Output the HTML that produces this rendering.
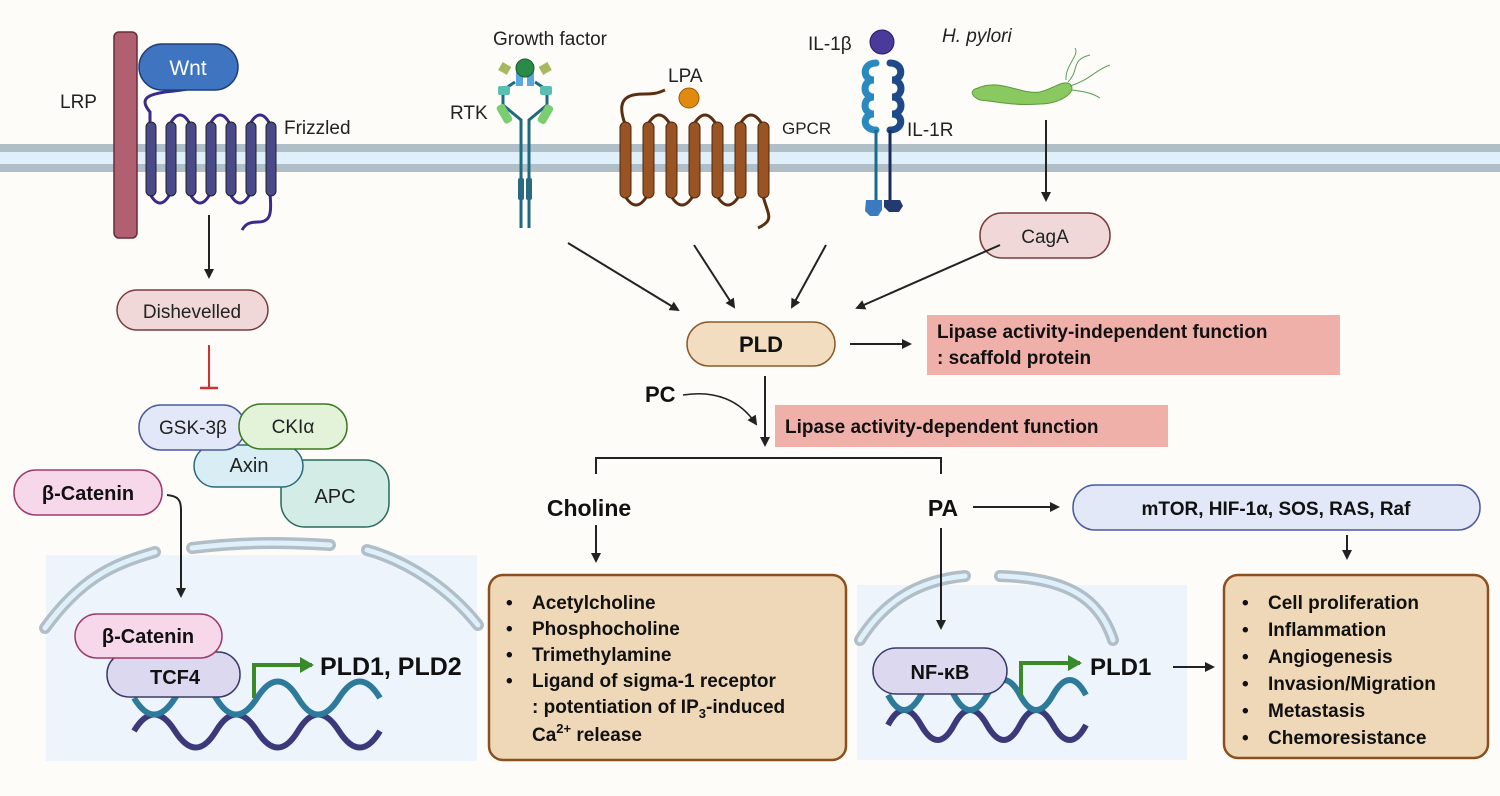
<!DOCTYPE html>
<html><head><meta charset="utf-8"><style>
html,body{margin:0;padding:0;background:#fdfcf8;}
svg{display:block;font-family:"Liberation Sans",sans-serif;}
.b{font-weight:bold;}
</style></head><body>
<svg width="1500" height="796" viewBox="0 0 1500 796" xmlns="http://www.w3.org/2000/svg">
<defs>
<marker id="ah" markerWidth="10" markerHeight="10" refX="8" refY="5" orient="auto" markerUnits="userSpaceOnUse"><path d="M0,0 L10,5 L0,10 z" fill="#222"/></marker>
<marker id="gh" markerWidth="14" markerHeight="16" refX="12" refY="8" orient="auto" markerUnits="userSpaceOnUse"><path d="M0,0 L14,8 L0,16 z" fill="#3a8a2a"/></marker>
</defs>
<rect width="1500" height="796" fill="#fdfcf8"/>
<!-- nuclei backgrounds -->
<rect x="46" y="555" width="431" height="206" fill="#edf4fc"/>
<rect x="857" y="585" width="330" height="175" fill="#edf4fc"/>
<g fill="none" stroke-linecap="round">
<path d="M45,628 C80,580 110,565 155,552" stroke="#b0bec8" stroke-width="12"/>
<path d="M45,628 C80,580 110,565 155,552" stroke="#e0f0fb" stroke-width="5"/>
<path d="M192,548 C240,542 280,542 330,545" stroke="#b0bec8" stroke-width="12"/>
<path d="M192,548 C240,542 280,542 330,545" stroke="#e0f0fb" stroke-width="5"/>
<path d="M367,550 C410,562 450,590 478,625" stroke="#b0bec8" stroke-width="12"/>
<path d="M367,550 C410,562 450,590 478,625" stroke="#e0f0fb" stroke-width="5"/>
<path d="M860,640 C885,600 920,580 965,576" stroke="#b0bec8" stroke-width="12"/>
<path d="M860,640 C885,600 920,580 965,576" stroke="#e0f0fb" stroke-width="5"/>
<path d="M1000,576 C1070,578 1100,600 1113,640" stroke="#b0bec8" stroke-width="12"/>
<path d="M1000,576 C1070,578 1100,600 1113,640" stroke="#e0f0fb" stroke-width="5"/>
</g>
<!-- membrane -->
<rect x="0" y="144" width="1500" height="28" fill="#e0f0fb"/>
<rect x="0" y="144" width="1500" height="8" fill="#b0bec8"/>
<rect x="0" y="164" width="1500" height="8" fill="#b0bec8"/>

<!-- LRP / Wnt / Frizzled -->
<text x="60" y="108" font-size="19" fill="#222">LRP</text>
<path d="M150,124 L150,112 C140,100 145,95 165,92 C180,90 190,90 193,86" fill="none" stroke="#3a2a8a" stroke-width="3"/>
<g fill="none" stroke="#3a2a8a" stroke-width="3">
<path d="M170,124 q10,-18 20,0 M210,124 q10,-18 20,0 M250,124 q10,-18 20,0"/>
<path d="M150,194 q10,18 20,0 M190,194 q10,18 20,0 M230,194 q10,18 20,0"/>
<path d="M270,194 C272,215 270,222 258,222 C248,222 245,225 242,230"/>
</g>
<g fill="#4a4a8a" stroke="#222" stroke-width="1">
<rect x="146" y="122" width="10" height="74" rx="5"/><rect x="166" y="122" width="10" height="74" rx="5"/>
<rect x="186" y="122" width="10" height="74" rx="5"/><rect x="206" y="122" width="10" height="74" rx="5"/>
<rect x="226" y="122" width="10" height="74" rx="5"/><rect x="246" y="122" width="10" height="74" rx="5"/>
<rect x="266" y="122" width="10" height="74" rx="5"/>
</g>
<rect x="114" y="32" width="23" height="206" rx="5" fill="#b06070" stroke="#6a2a3a" stroke-width="1.5"/>
<rect x="139" y="44" width="99" height="46" rx="23" fill="#3f74c0" stroke="#1e3e7a" stroke-width="1.5"/>
<text x="188" y="75" font-size="21" fill="#fff" text-anchor="middle">Wnt</text>
<text x="284" y="134" font-size="19" fill="#222">Frizzled</text>
<line x1="209" y1="215" x2="209" y2="277" stroke="#222" stroke-width="2" marker-end="url(#ah)"/>
<rect x="117" y="290" width="151" height="40" rx="20" fill="#f0d8d8" stroke="#7a3a3a" stroke-width="1.5"/>
<text x="192" y="318" font-size="19" text-anchor="middle" fill="#222">Dishevelled</text>
<line x1="209" y1="345" x2="209" y2="387" stroke="#d03030" stroke-width="2"/>
<line x1="200" y1="388" x2="218" y2="388" stroke="#d03030" stroke-width="2.5"/>

<!-- destruction complex -->
<rect x="281" y="460" width="108" height="67" rx="24" fill="#d3ece6" stroke="#2a6a5a" stroke-width="1.5"/>
<text x="335" y="503" font-size="20" text-anchor="middle" fill="#222">APC</text>
<rect x="194" y="445" width="109" height="42" rx="21" fill="#d8eef4" stroke="#2a6a7a" stroke-width="1.5"/>
<text x="249" y="472" font-size="20" text-anchor="middle" fill="#222">Axin</text>
<rect x="139" y="405" width="106" height="45" rx="22" fill="#e3e8f8" stroke="#4a5aa0" stroke-width="1.5"/>
<text x="193" y="434" font-size="19" text-anchor="middle" fill="#222">GSK-3β</text>
<rect x="239" y="404" width="108" height="45" rx="22" fill="#e2f3da" stroke="#3a7a20" stroke-width="1.5"/>
<text x="293" y="433" font-size="19" text-anchor="middle" fill="#222">CKIα</text>

<rect x="14" y="470" width="148" height="45" rx="22" fill="#f7d8ea" stroke="#a03a6a" stroke-width="1.5"/>
<text x="88" y="500" font-size="20" class="b" text-anchor="middle" fill="#111">β-Catenin</text>
<path d="M167,495 C178,496 181,500 181,510 L181,596" fill="none" stroke="#222" stroke-width="2" marker-end="url(#ah)"/>

<!-- left nucleus contents -->
<g fill="none" stroke-width="6">
<path d="M134,731 q20,-33 41,0 t41,0 t41,0 t41,0 t41,0 t41,0" stroke="#3a3a7a"/>
<path d="M134,698 q20,33 41,0 t41,0 t41,0 t41,0 t41,0 t41,0" stroke="#2e7a9a"/>
</g>
<rect x="107" y="652" width="133" height="45" rx="22" fill="#dcd8ef" stroke="#3a3a6a" stroke-width="1.5"/>
<text x="175" y="684" font-size="20" class="b" text-anchor="middle" fill="#111">TCF4</text>
<rect x="75" y="614" width="147" height="44" rx="22" fill="#f7d8ea" stroke="#a03a6a" stroke-width="1.5"/>
<text x="148" y="643" font-size="20" class="b" text-anchor="middle" fill="#111">β-Catenin</text>
<path d="M254,698 L254,665 L312,665" fill="none" stroke="#3a8a2a" stroke-width="4" marker-end="url(#gh)"/>
<text x="320" y="675" font-size="25" class="b" fill="#111">PLD1, PLD2</text>

<!-- RTK -->
<text x="550" y="45" font-size="19" text-anchor="middle" fill="#222">Growth factor</text>
<text x="450" y="119" font-size="19" fill="#222">RTK</text>
<g stroke="#1e6a80" stroke-width="3" fill="none">
<path d="M521,228 L521,120 L503,105 L503,90 L515,82"/>
<path d="M529,228 L529,120 L547,105 L547,90 L535,82"/>
</g>
<rect x="516" y="70" width="7" height="16" fill="#5aa8e0"/><rect x="527" y="70" width="7" height="16" fill="#5aa8e0"/>
<rect x="498" y="86" width="12" height="9" rx="2" fill="#5abfb0"/><rect x="540" y="86" width="12" height="9" rx="2" fill="#5abfb0"/>
<rect x="500" y="104" width="9" height="20" rx="3" fill="#7ccc70" transform="rotate(-30 504 114)"/>
<rect x="541" y="104" width="9" height="20" rx="3" fill="#7ccc70" transform="rotate(30 545 114)"/>
<rect x="500" y="64" width="10" height="9" fill="#a8b860" transform="rotate(30 505 68)"/>
<rect x="540" y="64" width="10" height="9" fill="#a8b860" transform="rotate(-30 545 68)"/>
<circle cx="525" cy="68" r="9" fill="#2a8a4a" stroke="#1a5a2a"/>
<rect x="518" y="178" width="6" height="22" rx="2" fill="#2a6a80"/><rect x="526" y="178" width="6" height="22" rx="2" fill="#2a6a80"/>

<!-- GPCR -->
<text x="668" y="82" font-size="19" fill="#222">LPA</text>
<path d="M663,130 q-10,-20 -20,-7 q-10,12 -18,-2 L624,125" fill="none" stroke="#5a2e10" stroke-width="0"/>
<path d="M662,132 C665,128 660,130 655,134" fill="none"/>
<path d="M660,132 C668,132 676,131 660,131" fill="none"/>
<path d="M625,124 C620,110 620,100 630,96 C640,92 650,96 660,92 L665,90" fill="none" stroke="#5a2e10" stroke-width="3"/>
<g fill="none" stroke="#5a2e10" stroke-width="3">
<path d="M648,124 q11,-18 22,0 M694,124 q11,-18 22,0 M740,124 q11,-18 22,0"/>
<path d="M625,196 q11,18 22,0 M671,196 q11,18 22,0 M717,196 q11,18 22,0"/>
<path d="M763,196 C768,215 775,220 758,228"/>
</g>
<g fill="#9a5322" stroke="#4a2a10" stroke-width="1">
<rect x="620" y="122" width="11" height="76" rx="5.5"/><rect x="643" y="122" width="11" height="76" rx="5.5"/>
<rect x="666" y="122" width="11" height="76" rx="5.5"/><rect x="689" y="122" width="11" height="76" rx="5.5"/>
<rect x="712" y="122" width="11" height="76" rx="5.5"/><rect x="735" y="122" width="11" height="76" rx="5.5"/>
<rect x="758" y="122" width="11" height="76" rx="5.5"/>
</g>
<circle cx="689" cy="98" r="10" fill="#e08a10" stroke="#9a5a00"/>
<text x="782" y="134" font-size="17" fill="#222">GPCR</text>

<!-- IL-1R -->
<text x="808" y="50" font-size="19" fill="#222">IL-1β</text>
<circle cx="882" cy="42" r="12" fill="#4a3a9a" stroke="#2a1a6a"/>
<g fill="none" stroke-width="7" stroke-linecap="round">
<path d="M876,63 C862,63 862,80 874,80 C862,80 862,97 874,97 C862,97 862,114 874,114 C862,114 862,130 876,130" stroke="#2a8abf"/>
<path d="M890,63 C904,63 904,80 892,80 C904,80 904,97 892,97 C904,97 904,114 892,114 C904,114 904,130 890,130" stroke="#1e4a8a"/>
</g>
<line x1="876" y1="130" x2="876" y2="200" stroke="#1a6a8a" stroke-width="3"/>
<line x1="890" y1="130" x2="890" y2="200" stroke="#1a2a5a" stroke-width="3"/>
<path d="M866,200 h16 v10 l-4,6 h-8 l-5,-5 z" fill="#3a7ac0"/>
<path d="M884,200 h16 l3,6 l-4,6 h-10 l-5,-5 z" fill="#233a70"/>
<text x="907" y="136" font-size="19" fill="#222">IL-1R</text>

<!-- H pylori -->
<text x="942" y="42" font-size="19" font-style="italic" fill="#222">H. pylori</text>
<path d="M978,88 C1000,78 1020,95 1040,92 C1055,88 1062,80 1070,84 C1078,92 1060,104 1040,104 C1015,106 1000,102 980,100 C970,96 970,90 978,88z" fill="#8ac860" stroke="#5a9a3a"/>
<path d="M1068,82 C1080,70 1070,60 1090,55 M1070,86 C1090,80 1095,70 1110,65 M1066,80 C1065,65 1080,55 1075,48 M1072,90 C1090,92 1095,95 1100,98" fill="none" stroke="#5a9a5a" stroke-width="1"/>
<line x1="1046" y1="120" x2="1046" y2="200" stroke="#222" stroke-width="2" marker-end="url(#ah)"/>
<rect x="980" y="213" width="130" height="45" rx="22" fill="#f0d8d8" stroke="#7a3a3a" stroke-width="1.5"/>
<text x="1045" y="243" font-size="19" text-anchor="middle" fill="#222">CagA</text>

<!-- arrows -->
<g stroke="#222" stroke-width="2" marker-end="url(#ah)">
<line x1="568" y1="243" x2="678" y2="310"/>
<line x1="694" y1="245" x2="734" y2="307"/>
<line x1="826" y1="245" x2="792" y2="307"/>
<line x1="1000" y1="245" x2="857" y2="308"/>
<line x1="850" y1="344" x2="910" y2="344"/>
<line x1="765" y1="376" x2="765" y2="445"/>
<line x1="596" y1="525" x2="596" y2="561"/>
<line x1="973" y1="507" x2="1058" y2="507"/>
<line x1="1347" y1="535" x2="1347" y2="558"/>
<line x1="941" y1="528" x2="941" y2="628"/>
<line x1="1173" y1="667" x2="1213" y2="667"/>
</g>
<rect x="687" y="322" width="148" height="44" rx="22" fill="#f2ddc0" stroke="#8a5a2a" stroke-width="1.5"/>
<text x="761" y="352" font-size="22" class="b" text-anchor="middle" fill="#111">PLD</text>
<rect x="927" y="315" width="413" height="60" fill="#efb0aa"/>
<text x="937" y="338" font-size="19" class="b" fill="#111">Lipase activity-independent function</text>
<text x="937" y="364" font-size="19" class="b" fill="#111">: scaffold protein</text>
<text x="645" y="402" font-size="22" class="b" fill="#111">PC</text>
<path d="M683,395 C715,390 740,400 756,424" fill="none" stroke="#222" stroke-width="1.5" marker-end="url(#ah)"/>
<rect x="775" y="405" width="393" height="42" fill="#efb0aa"/>
<text x="785" y="433" font-size="19" class="b" fill="#111">Lipase activity-dependent function</text>
<path d="M596,474 L596,458 L941,458 L941,474" fill="none" stroke="#222" stroke-width="2"/>
<text x="589" y="516" font-size="23" class="b" text-anchor="middle" fill="#111">Choline</text>
<text x="943" y="516" font-size="23" class="b" text-anchor="middle" fill="#111">PA</text>
<rect x="1073" y="485" width="407" height="45" rx="22" fill="#e3e8f8" stroke="#4a5aa0" stroke-width="1.5"/>
<text x="1276" y="515" font-size="19" class="b" text-anchor="middle" fill="#111">mTOR, HIF-1α, SOS, RAS, Raf</text>

<!-- choline box -->
<rect x="489" y="575" width="357" height="185" rx="14" fill="#efd8b8" stroke="#8a5020" stroke-width="2.5"/>
<g font-size="19" class="b" fill="#111">
<text x="506" y="609">•</text><text x="532" y="609">Acetylcholine</text>
<text x="506" y="635">•</text><text x="532" y="635">Phosphocholine</text>
<text x="506" y="661">•</text><text x="532" y="661">Trimethylamine</text>
<text x="506" y="687">•</text><text x="532" y="687">Ligand of sigma-1 receptor</text>
<text x="532" y="713">: potentiation of IP<tspan font-size="13" dy="5">3</tspan><tspan dy="-5">-induced</tspan></text>
<text x="532" y="741">Ca<tspan font-size="13" dy="-8">2+</tspan><tspan dy="8"> release</tspan></text>
</g>

<!-- middle nucleus contents -->
<g fill="none" stroke-width="6">
<path d="M888,725 q16,-30 33,0 t33,0 t33,0 t33,0 t33,0 t33,0" stroke="#3a3a7a"/>
<path d="M888,695 q16,30 33,0 t33,0 t33,0 t33,0 t33,0 t33,0" stroke="#2e7a9a"/>
</g>
<rect x="873" y="648" width="134" height="46" rx="23" fill="#dcd8ef" stroke="#3a3a6a" stroke-width="1.5"/>
<text x="940" y="679" font-size="20" class="b" text-anchor="middle" fill="#111">NF-κB</text>
<path d="M1021,696 L1021,663 L1080,663" fill="none" stroke="#3a8a2a" stroke-width="4" marker-end="url(#gh)"/>
<text x="1090" y="675" font-size="24" class="b" fill="#111">PLD1</text>

<!-- outcome box -->
<rect x="1224" y="575" width="264" height="183" rx="14" fill="#efd8b8" stroke="#8a5020" stroke-width="2.5"/>
<g font-size="19" class="b" fill="#111">
<text x="1242" y="609">•</text><text x="1268" y="609">Cell proliferation</text>
<text x="1242" y="636">•</text><text x="1268" y="636">Inflammation</text>
<text x="1242" y="663">•</text><text x="1268" y="663">Angiogenesis</text>
<text x="1242" y="690">•</text><text x="1268" y="690">Invasion/Migration</text>
<text x="1242" y="717">•</text><text x="1268" y="717">Metastasis</text>
<text x="1242" y="744">•</text><text x="1268" y="744">Chemoresistance</text>
</g>
</svg>
</body></html>
